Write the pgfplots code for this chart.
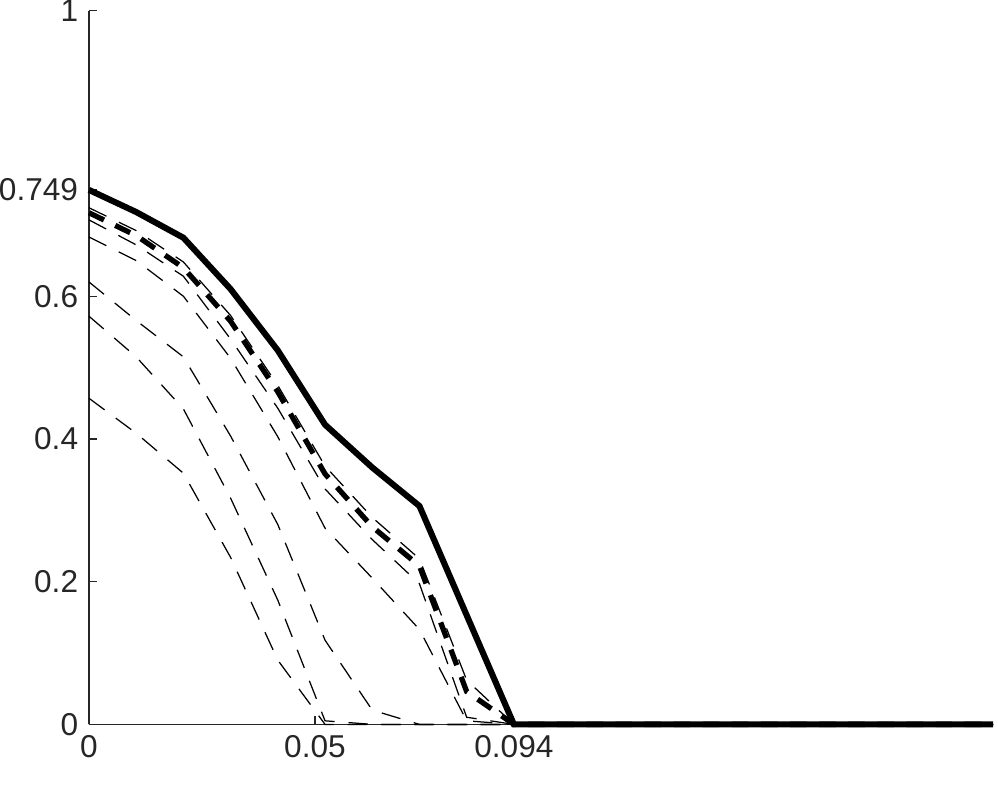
\documentclass[border=0pt]{standalone}
\usepackage{pgfplots}
\pgfplotsset{compat=1.18}
\usepackage{fontspec}
\setmainfont{Liberation Sans}
\definecolor{axgray}{HTML}{262626}
\begin{document}
\begin{tikzpicture}
\path[use as bounding box] (-32.1pt,-31.24pt) rectangle (327.9pt,261.3pt);
\begin{axis}[
  at={(0,0)}, anchor=south west,
  scale only axis,
  width=326.1pt, height=257.4pt,
  xmin=0, xmax=0.2, ymin=0, ymax=1,
  axis x line*=bottom, axis y line*=left,
  axis line style={axgray, line width=0.45pt},
  xtick={0,0.05,0.094}, xticklabels={0,0.05,0.094},
  ytick={0,0.2,0.4,0.6,0.749,1}, yticklabels={0,0.2,0.4,0.6,0.749,1},
  tick align=inside,
  major tick length=3pt,
  tick style={axgray, line width=0.45pt},
  every tick label/.append style={font=\fontsize{11.4}{13}\selectfont, text=axgray},
  /pgf/number format/assume math mode=true,
  xticklabel style={yshift=-0.5pt},
  yticklabel style={xshift=-0.4pt},
  clip=false,
]
\pgfplotsset{thin/.style={black, line width=0.45pt, dash pattern=on 7pt off 5pt}}
% T1
\addplot[thin] coordinates {(0,0.724) (0.010444,0.692) (0.020889,0.648) (0.031333,0.573) (0.041778,0.475) (0.052222,0.362) (0.062667,0.290) (0.073111,0.232) (0.083556,0.062) (0.094,0) (0.2,0)};
% T2
\addplot[thin] coordinates {(0,0.707) (0.010444,0.672) (0.020889,0.628) (0.031333,0.540) (0.041778,0.443) (0.052222,0.330) (0.062667,0.259) (0.073111,0.197) (0.083556,0.010) (0.094,0) (0.2,0)};
% T6
\addplot[thin] coordinates {(0,0.683) (0.010444,0.650) (0.020889,0.600) (0.031333,0.513) (0.041778,0.403) (0.052222,0.275) (0.062667,0.205) (0.073111,0.133) (0.083556,0.005) (0.094,0) (0.2,0)};
% T3
\addplot[thin] coordinates {(0,0.620) (0.010444,0.566) (0.020889,0.515) (0.031333,0.404) (0.041778,0.280) (0.052222,0.118) (0.062667,0.020) (0.073111,0) (0.083556,0) (0.094,0) (0.2,0)};
% T4
\addplot[thin] coordinates {(0,0.572) (0.010444,0.515) (0.020889,0.442) (0.031333,0.317) (0.041778,0.174) (0.052222,0.005) (0.062667,0) (0.073111,0) (0.083556,0) (0.094,0) (0.2,0)};
% T5
\addplot[thin] coordinates {(0,0.457) (0.010444,0.408) (0.020889,0.352) (0.031333,0.234) (0.041778,0.090) (0.052222,0) (0.062667,0) (0.073111,0) (0.083556,0) (0.094,0) (0.2,0)};
% thick dashed
\addplot[black, line width=1.9pt, dash pattern=on 6pt off 4.5pt] coordinates {(0,0.717) (0.010444,0.685) (0.020889,0.640) (0.031333,0.565) (0.041778,0.466) (0.052222,0.351) (0.062667,0.277) (0.073111,0.222) (0.083556,0.046) (0.094,0) (0.2,0)};
% thick solid
\addplot[black, line width=2.2pt] coordinates {(0,0.749) (0.010444,0.718) (0.020889,0.682) (0.031333,0.610) (0.041778,0.524) (0.052222,0.420) (0.062667,0.360) (0.073111,0.306) (0.083556,0.153) (0.094,0) (0.2,0)};
\end{axis}
\end{tikzpicture}
\end{document}
